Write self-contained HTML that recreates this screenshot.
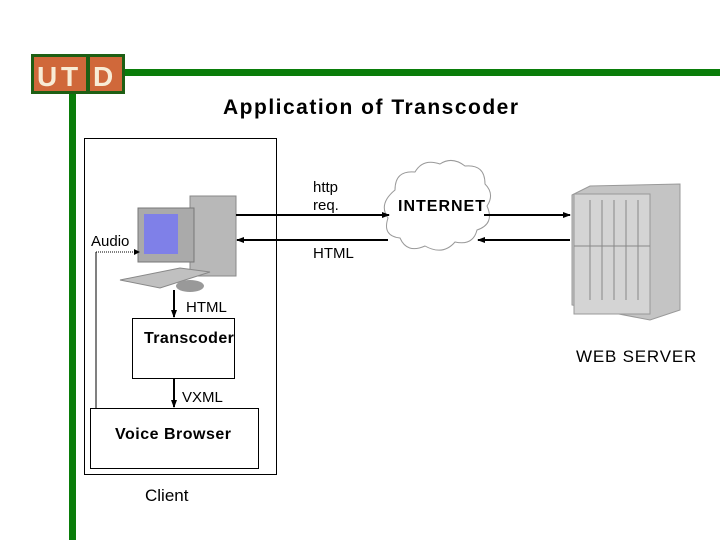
<!DOCTYPE html>
<html><head><style>
body{margin:0;width:720px;height:540px;background:#fff;overflow:hidden;position:relative;font-family:"Liberation Sans",sans-serif}
.t{position:absolute;font-size:15px;color:#000;white-space:nowrap}
</style></head><body>
<svg width="720" height="540" style="position:absolute;left:0;top:0">
<defs><marker id="a" markerWidth="8" markerHeight="8" refX="7" refY="4" orient="auto" markerUnits="userSpaceOnUse"><path d="M0,1 L8,4 L0,7z" fill="#000"/></marker></defs>
<rect x="120" y="69" width="600" height="7" fill="#0a7d0a"/>
<rect x="69" y="90" width="7" height="450" fill="#0a7d0a"/>
<rect x="31" y="54" width="94" height="40" fill="#1e5f14"/>
<rect x="34" y="57" width="52" height="34" fill="#d0683a"/>
<rect x="90" y="57" width="32" height="34" fill="#d0683a"/>
<text x="37" y="86" font-family="Liberation Sans" font-size="28" font-weight="bold" fill="#f8ecd6">U</text>
<text x="61" y="86" font-family="Liberation Sans" font-size="28" font-weight="bold" fill="#f8ecd6">T</text>
<text x="93" y="86" font-family="Liberation Sans" font-size="28" font-weight="bold" fill="#f8ecd6">D</text>
<rect x="84.5" y="138.5" width="192" height="336" fill="none" stroke="#000"/>
<rect x="132.5" y="318.5" width="102" height="60" fill="none" stroke="#000"/>
<rect x="90.5" y="408.5" width="168" height="60" fill="none" stroke="#000"/>
<rect x="190" y="196" width="46" height="80" fill="#b8b8b8" stroke="#888"/>
<rect x="138" y="208" width="56" height="54" fill="#aaa" stroke="#777"/>
<rect x="144" y="214" width="34" height="40" fill="#7f80e8"/>
<polygon points="120,280 180,268 210,272 160,288" fill="#c0c0c0" stroke="#888"/>
<ellipse cx="190" cy="286" rx="14" ry="6" fill="#999"/>
<polygon points="572,195 590,186 680,184 680,310 650,320 572,305" fill="#c4c4c4" stroke="#999"/>
<rect x="574" y="194" width="76" height="120" fill="#d4d4d4" stroke="#999"/>
<g stroke="#888"><line x1="590" y1="200" x2="590" y2="300"/><line x1="602" y1="200" x2="602" y2="300"/><line x1="614" y1="200" x2="614" y2="300"/><line x1="626" y1="200" x2="626" y2="300"/><line x1="638" y1="200" x2="638" y2="300"/><line x1="574" y1="246" x2="650" y2="246"/></g>
<path d="M395,190 q0,-20 20,-18 q8,-14 25,-8 q12,-8 25,2 q20,-2 20,18 q10,10 2,22 q8,18 -10,24 q-4,16 -22,12 q-12,14 -30,4 q-18,8 -25,-8 q-18,-2 -12,-20 q-10,-14 7,-28z" fill="#fff" stroke="#999"/>
<g stroke="#000" stroke-width="2" fill="none">
<line x1="236" y1="215" x2="389" y2="215" marker-end="url(#a)"/>
<line x1="484" y1="215" x2="570" y2="215" marker-end="url(#a)"/>
<line x1="570" y1="240" x2="478" y2="240" marker-end="url(#a)"/>
<line x1="388" y1="240" x2="237" y2="240" marker-end="url(#a)"/>
<line x1="174" y1="290" x2="174" y2="317" marker-end="url(#a)"/>
<line x1="174" y1="379" x2="174" y2="407" marker-end="url(#a)"/>
</g>
<polyline points="96,408 96,252" stroke="#000" fill="none"/>
<line x1="96" y1="252" x2="135" y2="252" stroke="#000" stroke-dasharray="1,1"/>
<path d="M134,249 L140,252 L134,255z" fill="#000"/>
</svg>
<div class="t" style="left:223px;top:96px;font-size:21px;font-weight:bold;letter-spacing:1.5px">Application of Transcoder</div>
<div class="t" style="left:313px;top:179px;line-height:18px">http<br>req.</div>
<div class="t" style="left:398px;top:198px;font-size:16px;font-weight:bold;letter-spacing:1px">INTERNET</div>
<div class="t" style="left:91px;top:233px;font-size:15px">Audio</div>
<div class="t" style="left:313px;top:245px">HTML</div>
<div class="t" style="left:186px;top:299px">HTML</div>
<div class="t" style="left:144px;top:330px;font-size:16px;font-weight:bold;letter-spacing:0.4px">Transcoder</div>
<div class="t" style="left:576px;top:347px;font-size:17px;letter-spacing:0.8px">WEB SERVER</div>
<div class="t" style="left:182px;top:389px">VXML</div>
<div class="t" style="left:115px;top:426px;font-size:16px;font-weight:bold;letter-spacing:0.5px">Voice Browser</div>
<div class="t" style="left:145px;top:486px;font-size:17px">Client</div>
</body></html>
